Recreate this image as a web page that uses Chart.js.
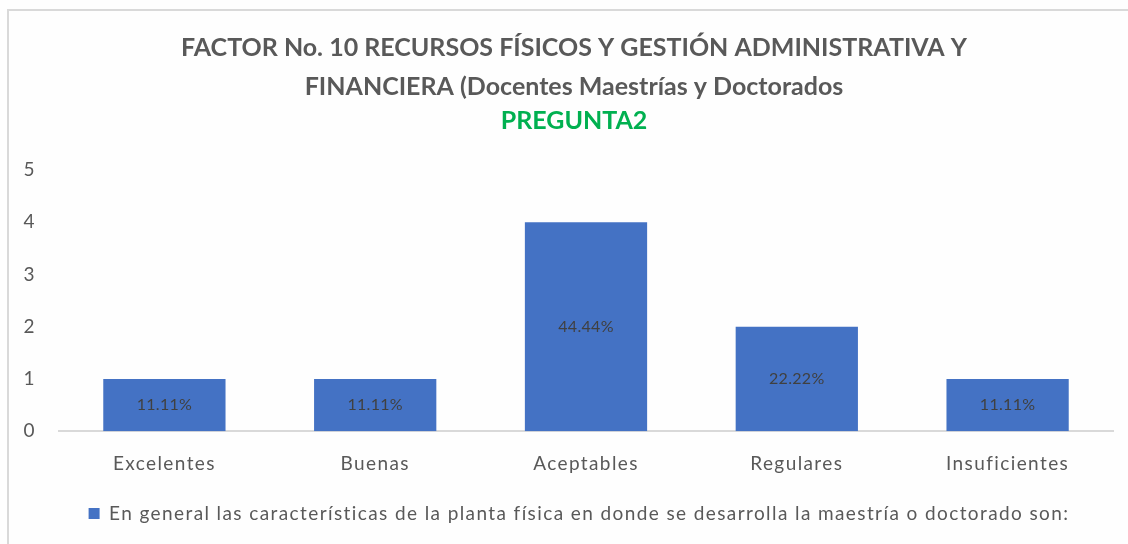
<!DOCTYPE html>
<html>
<head>
<meta charset="utf-8">
<script src="https://cdn.jsdelivr.net/npm/chart.js@4.4.1/dist/chart.umd.min.js"></script>
<style>
  html, body { margin: 0; padding: 0; background: #ffffff; }
  #wrap { position: absolute; left: 0; top: 0; width: 1128px; height: 544px; background: #fefefe; }
  #frame { position: absolute; left: 7px; top: 9px; width: 1130px; height: 540px; border-top: 2px solid #d9d9d9; border-left: 2px solid #d9d9d9; box-sizing: border-box; }
  canvas { position: absolute; left: 0; top: 0; }
</style>
</head>
<body>
<div id="wrap">
  <div id="frame"></div>
  <canvas id="c" width="1128" height="544"></canvas>
</div>
<script>
const titleLines = ["FACTOR No. 10 RECURSOS FÍSICOS Y GESTIÓN ADMINISTRATIVA Y", "FINANCIERA (Docentes Maestrías y Doctorados"];
const subtitleText = "PREGUNTA2";
const categories = ["Excelentes", "Buenas", "Aceptables", "Regulares", "Insuficientes"];
const counts = [1, 1, 4, 2, 1];
const percentLabels = ["11.11%", "11.11%", "44.44%", "22.22%", "11.11%"];
const seriesName = "En general las características de la planta física en donde se desarrolla la maestría o doctorado son:";
const yTicks = [0, 1, 2, 3, 4, 5];

const FONT = "Lato, 'Open Sans', sans-serif";
const SPACING = '1.4px';

const spacingPlugin = {
  id: 'spacing',
  beforeInit(chart) { chart.ctx.letterSpacing = SPACING; },
  beforeUpdate(chart) { chart.ctx.letterSpacing = SPACING; },
  beforeDraw(chart) { chart.ctx.letterSpacing = SPACING; }
};

const barLabels = {
  id: 'barLabels',
  afterDatasetsDraw(chart) {
    const ctx = chart.ctx;
    const meta = chart.getDatasetMeta(0);
    ctx.save();
    ctx.letterSpacing = '0.3px';
    ctx.font = "16px " + FONT;
    ctx.fillStyle = "#404040";
    ctx.textAlign = "center";
    ctx.textBaseline = "middle";
    meta.data.forEach((bar, i) => {
      const mid = (bar.y + bar.base) / 2;
      ctx.fillText(percentLabels[i], bar.x, mid);
    });
    ctx.restore();
  }
};

const chart = new Chart(document.getElementById('c'), {
  type: 'bar',
  data: {
    labels: categories,
    datasets: [{
      label: seriesName,
      data: counts,
      backgroundColor: '#4472C4',
      borderColor: '#4472C4',
      borderWidth: 0,
      categoryPercentage: 0.58,
      barPercentage: 1.0
    }]
  },
  options: {
    responsive: false,
    animation: false,
    layout: { padding: { left: 5, right: 15, top: 28, bottom: 6 } },
    plugins: {
      title: {
        display: true,
        text: titleLines,
        color: '#595959',
        font: { family: FONT, size: 25, weight: 'bold', lineHeight: 1.56 },
        padding: { top: 0, bottom: 0 }
      },
      subtitle: {
        display: true,
        text: subtitleText,
        color: '#00B050',
        font: { family: FONT, size: 25, weight: 'bold', lineHeight: 1.2 },
        padding: { top: 0, bottom: 34 }
      },
      legend: {
        position: 'bottom',
        labels: {
          color: '#595959',
          font: { family: FONT, size: 19 },
          boxWidth: 11,
          boxHeight: 11,
          padding: 16
        }
      },
      tooltip: { enabled: false }
    },
    scales: {
      x: {
        afterFit(scale) { scale.height += 5; },
        grid: { display: false },
        border: { display: true, color: '#d9d9d9', width: 2 },
        ticks: { color: '#595959', font: { family: FONT, size: 19 }, padding: 13 }
      },
      y: {
        min: 0, max: 5,
        afterBuildTicks(scale) { scale.ticks = yTicks.map(v => ({ value: v })); },
        afterFit(scale) { scale.width = 54; },
        grid: { display: false, drawTicks: false },
        border: { display: false },
        ticks: { color: '#595959', font: { family: FONT, size: 19 }, padding: 23 }
      }
    }
  },
  plugins: [spacingPlugin, barLabels]
});

// Titles drawn without extra letter spacing; title and legend centred like the original
function wrapDraw(box, spacing, dx, dy) {
  const orig = box.draw.bind(box);
  box.draw = function () {
    const ctx = chart.ctx;
    ctx.save();
    if (spacing !== null) ctx.letterSpacing = spacing;
    ctx.translate(dx, dy);
    orig();
    ctx.restore();
  };
}
chart.boxes.forEach(box => {
  if (!box.options) return;
  if (box === chart.titleBlock || box.options.text === subtitleText) {
    wrapDraw(box, '0px', 15, 0);
  } else if (box === chart.legend) {
    wrapDraw(box, null, 20, -5);
  }
});
chart.draw();
</script>
</body>
</html>
